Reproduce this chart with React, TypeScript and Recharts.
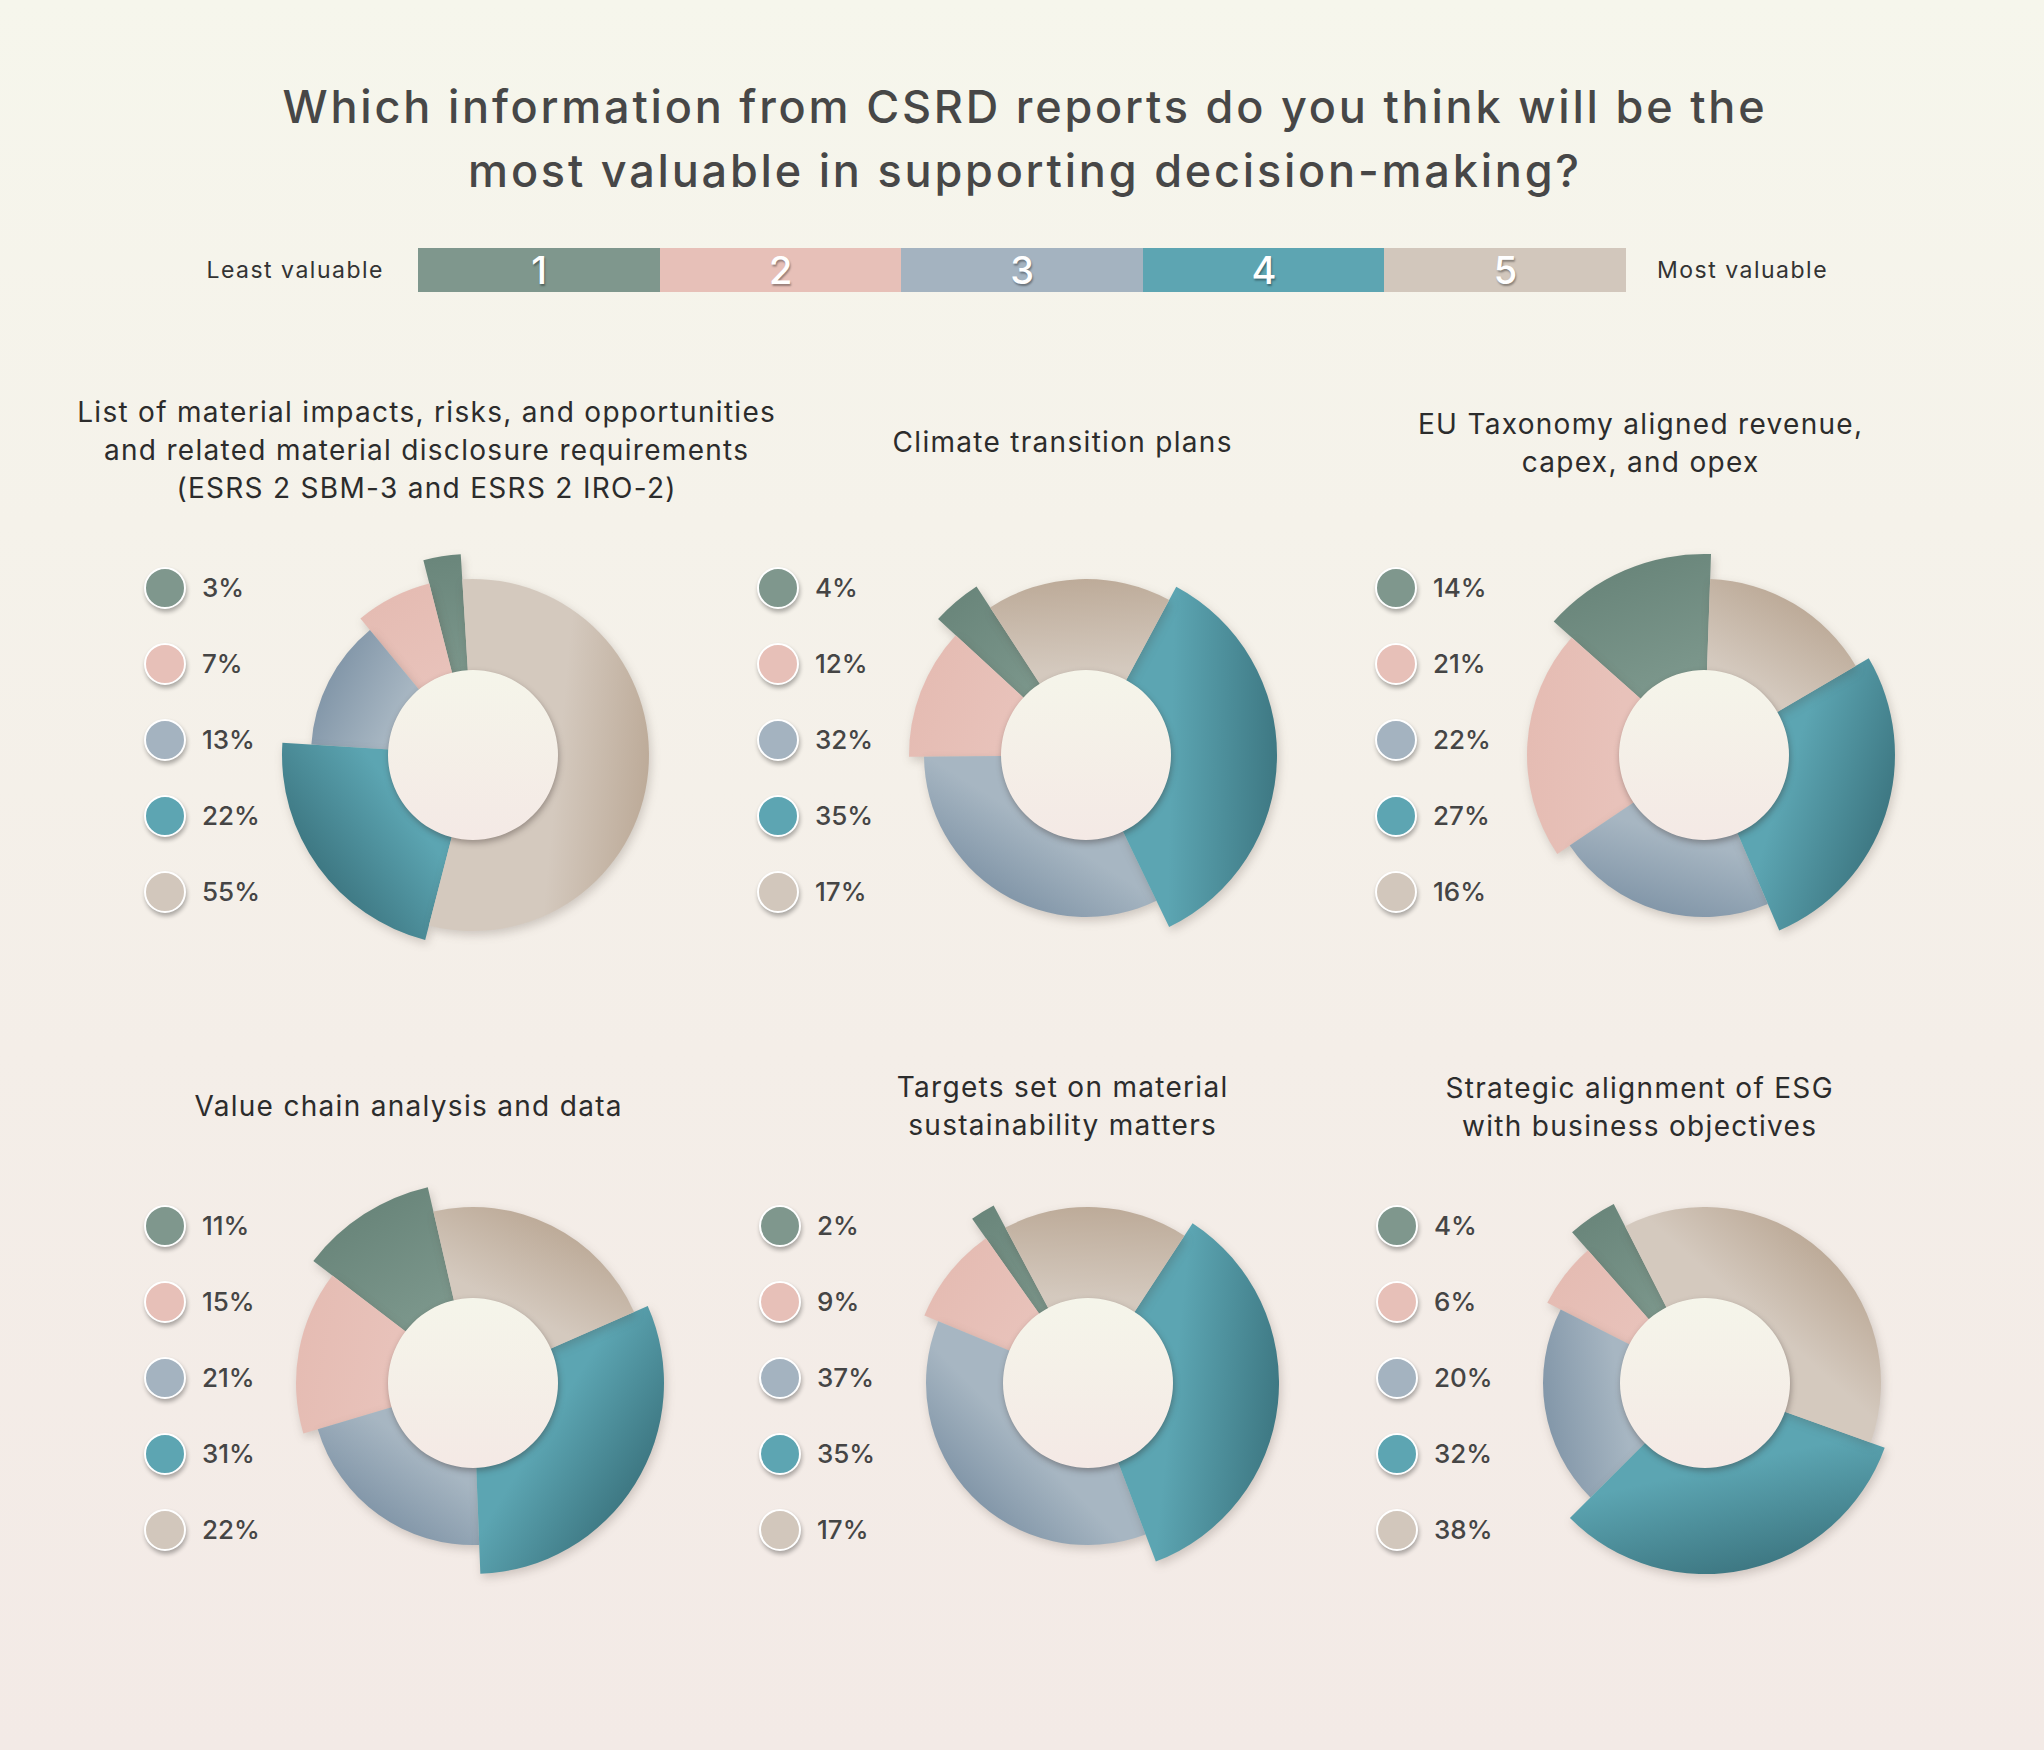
import React from 'react';
import { PieChart, Pie, Cell } from 'recharts';

// ---------- data ----------
const LEVELS = ['1', '2', '3', '4', '5'];
const SCALE_ENDS = ['Least valuable', 'Most valuable'];
const TITLE_LINES = [
  'Which information from CSRD reports do you think will be the',
  'most valuable in supporting decision-making?',
];

const titleMaterialList = [
  'List of material impacts, risks, and opportunities',
  'and related material disclosure requirements',
  '(ESRS 2 SBM-3 and ESRS 2 IRO-2)',
];
const titleClimate = ['Climate transition plans'];
const titleTaxonomy = ['EU Taxonomy aligned revenue,', 'capex, and opex'];
const titleValueChain = ['Value chain analysis and data'];
const titleTargets = ['Targets set on material', 'sustainability matters'];
const titleStrategic = ['Strategic alignment of ESG', 'with business objectives'];

const valuesMaterialList = [3, 7, 13, 22, 55];
const valuesClimate = [4, 12, 32, 35, 17];
const valuesTaxonomy = [14, 21, 22, 27, 16];
const valuesValueChain = [11, 15, 21, 31, 22];
const valuesTargets = [2, 9, 37, 35, 17];
const valuesStrategic = [4, 6, 20, 32, 38];

// ---------- styling / layout ----------
const LEVEL_COLORS = ['#7f978d', '#e7c0b8', '#a4b3c0', '#5da5b2', '#d2c7bc'];
const INNER_SHADES = ['#7b968b', '#e8c2ba', '#a7b6c2', '#5ca5b2', '#d4c9be'];
const OUTER_SHADES = ['#6a867b', '#e5bcb3', '#8397a9', '#3e7883', '#bdab99'];
const RADII = [201, 177, 162, 191, 176];
const HOLE_R = 85;
const SIZE = 460;
const C = SIZE / 2;
const FONT = 'Inter, "DejaVu Sans", sans-serif';

const panels = [
  { id: 'a', title: titleMaterialList, values: valuesMaterialList, cx: 473, cy: 755, start: 93.5, tx: 426, ty: 412, ly: 588 },
  { id: 'b', title: titleClimate, values: valuesClimate, cx: 1086, cy: 755, start: 123, tx: 1062, ty: 442, ly: 588 },
  { id: 'c', title: titleTaxonomy, values: valuesTaxonomy, cx: 1704, cy: 755, start: 88, tx: 1640, ty: 424, ly: 588 },
  { id: 'd', title: titleValueChain, values: valuesValueChain, cx: 473, cy: 1383, start: 103, tx: 408, ty: 1106, ly: 1226 },
  { id: 'e', title: titleTargets, values: valuesTargets, cx: 1088, cy: 1383, start: 118, tx: 1062, ty: 1087, ly: 1226 },
  { id: 'f', title: titleStrategic, values: valuesStrategic, cx: 1705, cy: 1383, start: 117, tx: 1639, ty: 1088, ly: 1226 },
];

function Donut({ id, values, startAngle }: { id: string; values: number[]; startAngle: number }) {
  const rows = values.map((value, i) => ({ level: LEVELS[i], value }));
  const total = values.reduce((a, b) => a + b, 0);
  let acc = 0;
  const mids = values.map((v) => {
    const m = startAngle + (360 * (acc + v / 2)) / total;
    acc += v;
    return m;
  });
  return (
    <PieChart width={SIZE} height={SIZE} margin={{ top: 0, right: 0, bottom: 0, left: 0 }}>
      <defs>
        {mids.map((m, k) => {
          const rad = (m * Math.PI) / 180;
          return (
            <linearGradient
              key={k}
              id={`seg-${id}-${k}`}
              gradientUnits="userSpaceOnUse"
              x1={C + HOLE_R * Math.cos(rad)}
              y1={C - HOLE_R * Math.sin(rad)}
              x2={C + RADII[k] * Math.cos(rad)}
              y2={C - RADII[k] * Math.sin(rad)}
            >
              <stop offset="0%" stopColor={INNER_SHADES[k]} />
              <stop offset="100%" stopColor={OUTER_SHADES[k]} />
            </linearGradient>
          );
        })}
        <linearGradient id={`hole-${id}`} x1="0" y1="0" x2="0" y2="1">
          <stop offset="0%" stopColor="#f5f5ea" />
          <stop offset="100%" stopColor="#f4e9e5" />
        </linearGradient>
      </defs>
      {RADII.map((r, k) => (
        <Pie
          key={k}
          data={rows}
          dataKey="value"
          nameKey="level"
          cx={C}
          cy={C}
          innerRadius={HOLE_R - 1}
          outerRadius={r}
          startAngle={startAngle}
          endAngle={startAngle + 360}
          stroke="none"
          isAnimationActive={false}
        >
          {rows.map((row, i) => (
            <Cell key={row.level} fill={i === k ? `url(#seg-${id}-${k})` : 'none'} />
          ))}
        </Pie>
      ))}
      <Pie
        data={[{ level: 'centre', value: 1 }]}
        dataKey="value"
        nameKey="level"
        cx={C}
        cy={C}
        innerRadius={0}
        outerRadius={HOLE_R}
        startAngle={90}
        endAngle={450}
        stroke="none"
        fill={`url(#hole-${id})`}
        isAnimationActive={false}
      />
    </PieChart>
  );
}

export default function App() {
  const BAR_X = 418;
  const BAR_W = 241.6;
  return (
    <div
      style={{
        position: 'absolute',
        left: 0,
        top: 0,
        width: 2044,
        height: 1750,
        overflow: 'hidden',
        background: 'linear-gradient(180deg, #f6f6ec 0%, #f4eee8 60%, #f3eae6 100%)',
        fontFamily: FONT,
      }}
    >
      <style>{`
        path[fill^="url(#seg"] { filter: drop-shadow(2px 4px 5px rgba(70,55,45,0.22)); }
        path[fill^="url(#hole"] { filter: drop-shadow(1px 3px 3px rgba(40,30,25,0.35)); }
      `}</style>

      {/* main title */}
      <div
        style={{
          position: 'absolute',
          left: 0,
          width: 2044,
          top: 107 - 32,
          lineHeight: '64px',
          fontSize: 45,
          fontWeight: 500,
          letterSpacing: '2.8px',
          paddingLeft: 3,
          color: '#474747',
          textAlign: 'center',
        }}
      >
        {TITLE_LINES.map((l) => (
          <div key={l}>{l}</div>
        ))}
      </div>

      {/* scale legend */}
      <div
        style={{
          position: 'absolute',
          right: 2044 - 384,
          top: 270 - 15,
          lineHeight: '30px',
          fontSize: 23,
          letterSpacing: '1.5px',
          color: '#333',
          whiteSpace: 'nowrap',
        }}
      >
        {SCALE_ENDS[0]}
      </div>
      <div
        style={{
          position: 'absolute',
          left: 1657,
          top: 270 - 15,
          lineHeight: '30px',
          fontSize: 23,
          letterSpacing: '1.5px',
          color: '#333',
          whiteSpace: 'nowrap',
        }}
      >
        {SCALE_ENDS[1]}
      </div>
      {LEVELS.map((lv, i) => (
        <div
          key={lv}
          style={{
            position: 'absolute',
            left: BAR_X + i * BAR_W,
            width: BAR_W + 0.5,
            top: 248,
            height: 44,
            background: LEVEL_COLORS[i],
            color: '#fff',
            fontSize: 38,
            fontWeight: 500,
            lineHeight: '44px',
            textAlign: 'center',
            textShadow: '1px 2px 2px rgba(0,0,0,0.35)',
          }}
        >
          {lv}
        </div>
      ))}

      {panels.map((p) => (
        <React.Fragment key={p.id}>
          <div
            style={{
              position: 'absolute',
              left: p.tx - 450,
              width: 900,
              top: p.ty - 19,
              lineHeight: '38px',
              fontSize: 28,
              letterSpacing: '1.3px',
              paddingLeft: 1.3,
              boxSizing: 'border-box',
              color: '#2c2c2c',
              textAlign: 'center',
            }}
          >
            {p.title.map((l) => (
              <div key={l}>{l}</div>
            ))}
          </div>
          {p.values.map((v, i) => (
            <React.Fragment key={i}>
              <div
                style={{
                  position: 'absolute',
                  left: p.cx - 308 - 21,
                  top: p.ly + i * 76 - 21,
                  width: 42,
                  height: 42,
                  boxSizing: 'border-box',
                  borderRadius: '50%',
                  border: '2.5px solid #fff',
                  background: LEVEL_COLORS[i],
                  boxShadow: '1px 3px 4px rgba(0,0,0,0.3)',
                }}
              />
              <div
                style={{
                  position: 'absolute',
                  left: p.cx - 308 + 37,
                  top: p.ly + i * 76 - 18,
                  lineHeight: '36px',
                  fontSize: 26,
                  fontWeight: 500,
                  color: '#454545',
                  whiteSpace: 'nowrap',
                }}
              >
                {`${v}%`}
              </div>
            </React.Fragment>
          ))}
          <div style={{ position: 'absolute', left: p.cx - C, top: p.cy - C, width: SIZE, height: SIZE }}>
            <Donut id={p.id} values={p.values} startAngle={p.start} />
          </div>
        </React.Fragment>
      ))}
    </div>
  );
}
